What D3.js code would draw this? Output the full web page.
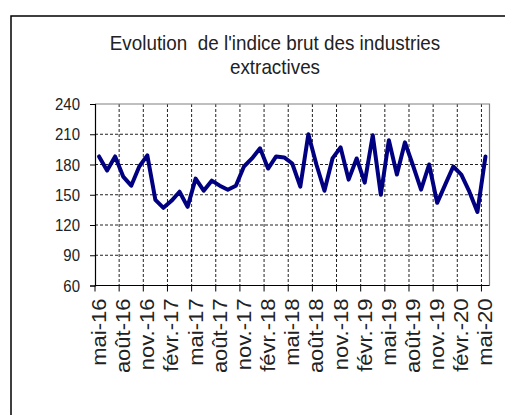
<!DOCTYPE html>
<html>
<head>
<meta charset="utf-8">
<script src="https://cdn.jsdelivr.net/npm/d3@7"></script>
<style>
  html, body { margin: 0; padding: 0; background: #fff; }
  svg { display: block; }
</style>
</head>
<body>
<div id="chart"></div>
<script>
// Monthly categories, mai-16 .. mai-20
const frMonths = ["janv.", "févr.", "mars", "avr.", "mai", "juin", "juil.", "août", "sept.", "oct.", "nov.", "déc."];
const categories = [];
for (let k = 0; k < 49; k++) {
  const m = (4 + k) % 12;
  const yr = 16 + Math.floor((4 + k) / 12);
  categories.push(frMonths[m] + "-" + yr);
}

// Indice brut
const indice = [
  188, 174, 188, 168, 159, 178, 189, 145, 137, 144, 153, 138,
  166, 154, 164, 159, 155, 159, 178, 186, 196, 176, 188, 187,
  181, 158, 210, 180, 154, 186, 197, 165, 186, 162, 209, 150,
  204, 170, 202, 179, 155, 180, 142, 160, 178, 170, 153, 133,
  188
];

const yTicks = [60, 90, 120, 150, 180, 210, 240];
const titleLines = ["Evolution  de l'indice brut des industries", "extractives"];

// ---------------------------------------------------------------
const W = 505, H = 415;
const plot = { left: 95, right: 489.5, top: 104, bottom: 285.5 };
const SX = 0.88; // picture is squeezed horizontally
const FONT = "'Liberation Sans', Arial, sans-serif";

const svg = d3.select("#chart").append("svg")
  .attr("width", W).attr("height", H);

svg.append("rect").attr("width", W).attr("height", H).attr("fill", "#fff");

// outer frame (runs off right/bottom edges)
svg.append("rect")
  .attr("x", 11).attr("y", 16)
  .attr("width", 520).attr("height", 430)
  .attr("fill", "none")
  .attr("stroke", "#000")
  .attr("stroke-width", 1.5);

// title
svg.selectAll("text.title")
  .data(titleLines)
  .join("text")
  .attr("class", "title")
  .attr("transform", (d, i) => `translate(275,${50 + i * 24}) scale(0.92,1)`)
  .attr("text-anchor", "middle")
  .style("white-space", "pre")
  .style("font-family", FONT)
  .style("font-size", "20.5px")
  .style("fill", "#222")
  .text(d => d);

// scales
const x = d3.scaleBand()
  .domain(d3.range(categories.length))
  .range([plot.left, plot.right])
  .paddingInner(0).paddingOuter(0);
const bw = x.bandwidth();
const y = d3.scaleLinear().domain([60, 240]).range([plot.bottom, plot.top]);

const g = svg.append("g");

// horizontal grid
g.append("g")
  .selectAll("line")
  .data(yTicks.filter(v => v > 60 && v < 240))
  .join("line")
  .attr("x1", plot.left).attr("x2", plot.right)
  .attr("y1", d => y(d)).attr("y2", d => y(d))
  .attr("stroke", "#222")
  .attr("stroke-width", 1)
  .attr("stroke-dasharray", "3,2");

// vertical grid every 3 months (category boundaries)
const tickIdx = d3.range(0, categories.length, 3);
g.append("g")
  .selectAll("line")
  .data(tickIdx.filter(i => i > 0))
  .join("line")
  .attr("x1", d => x(d)).attr("x2", d => x(d))
  .attr("y1", plot.top).attr("y2", plot.bottom)
  .attr("stroke", "#222")
  .attr("stroke-width", 1)
  .attr("stroke-dasharray", "3,2");

// plot border (top / right)
g.append("path")
  .attr("d", `M${plot.left},${plot.top}H${plot.right}V${plot.bottom}`)
  .attr("fill", "none")
  .attr("stroke", "#808080")
  .attr("stroke-width", 1.2);

// y axis
const yAxis = g.append("g")
  .attr("transform", `translate(${plot.left},0)`)
  .call(d3.axisLeft(y).tickValues(yTicks).tickSize(5).tickFormat(""));
yAxis.select(".domain").attr("stroke", "#000").attr("stroke-width", 1.2);
yAxis.selectAll("line").attr("stroke", "#000");

g.append("g")
  .selectAll("text")
  .data(yTicks)
  .join("text")
  .attr("transform", d => `translate(80,${y(d) + 6}) scale(${SX},1)`)
  .attr("text-anchor", "end")
  .style("font-family", FONT)
  .style("font-size", "17px")
  .style("fill", "#222")
  .text(d => d);

// x axis
const xAxis = g.append("g")
  .attr("transform", `translate(0,${plot.bottom})`);
xAxis.append("line")
  .attr("x1", plot.left).attr("x2", plot.right)
  .attr("stroke", "#000").attr("stroke-width", 1.2);
xAxis.selectAll("line.tick")
  .data(tickIdx)
  .join("line")
  .attr("class", "tick")
  .attr("x1", d => x(d)).attr("x2", d => x(d))
  .attr("y1", 0).attr("y2", 6)
  .attr("stroke", "#000");

xAxis.selectAll("text")
  .data(tickIdx)
  .join("text")
  .attr("transform", d => `translate(${x(d) + bw / 2 + 7},13) scale(${SX},1) rotate(-90)`)
  .attr("text-anchor", "end")
  .style("font-family", FONT)
  .style("font-size", "22px")
  .style("fill", "#222")
  .text(d => categories[d]);

// series line
const line = d3.line()
  .x((d, i) => x(i) + bw / 2)
  .y(d => y(d));

g.append("path")
  .datum(indice)
  .attr("fill", "none")
  .attr("stroke", "#000080")
  .attr("stroke-width", 4)
  .attr("stroke-linejoin", "round")
  .attr("stroke-linecap", "round")
  .attr("d", line);
</script>
</body>
</html>
